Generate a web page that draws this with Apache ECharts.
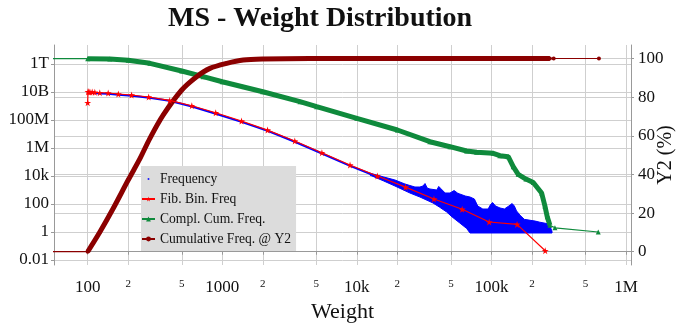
<!DOCTYPE html>
<html>
<head>
<meta charset="utf-8" />
<title>MS - Weight Distribution</title>
<style>
  html, body { margin: 0; padding: 0; background: #fff; }
  #chart { width: 676px; height: 326px; }
</style>
</head>
<body>
<div id="chart"></div>
<script src="https://cdn.jsdelivr.net/npm/echarts@6/dist/echarts.min.js"></script>
<script>
// axis ticks
var xTicks = [100, 200, 500, 1000, 2000, 5000, 10000, 20000, 50000, 100000, 200000, 500000, 1000000];
var xTickText = ['100', '2', '5', '1000', '2', '5', '10k', '2', '5', '100k', '2', '5', '1M'];
var yTicks = [0.01, 1, 100, 1e4, 1e6, 1e8, 1e10, 1e12];
var yTickText = ['0.01', '1', '100', '10k', '1M', '100M', '10B', '1T'];
var y2Ticks = [0, 20, 40, 60, 80, 100];

// Frequency: the clean part of the curve (count of nodes per weight)
var freqWeight = [100, 123, 141, 169, 212, 287, 404, 594, 894, 1385, 2168, 3453, 5500, 8900, 12500];
var freqCount = [9.2e9, 7.8e9, 7.4e9, 6.3e9, 5.35e9, 3.85e9, 2.35e9, 9.2e8, 2.8e8, 7.4e7, 1.7e7, 2.8e6, 4.05e5, 5.35e4, 1.46e4];
// Frequency: the noisy tail, upper and lower edge of the point cloud
var cloudTopWeight = [12500, 15850, 19190, 22780, 24800, 27020, 29420, 31000, 32100, 33300, 34900, 39300, 40600,
  42000, 45300, 49200, 52800, 55900, 58200, 63900, 69300, 74700, 79100, 86300, 94500, 98100, 101900, 107300,
  115800, 124900, 134600, 142500, 148000, 153700, 162900, 175600, 212000, 229200, 258200, 272000, 282000];
var cloudTopCount = [1.6e4, 8490, 5180, 2680, 2090, 1640, 1640, 1930, 2900, 1390, 1180, 1000, 1800,
  1280, 611, 611, 920, 611, 518, 373, 316, 228, 72, 44, 44, 85, 128, 72,
  52, 44, 72, 108, 72, 32, 16, 8, 6, 5, 4, 2.7, 1.1];
var cloudLowWeight = [12500, 15850, 19190, 24800, 29420, 36800, 41000, 46500, 51000, 58200, 65400, 69300, 282000];
var cloudLowCount = [1.17e4, 4390, 1930, 611, 316, 118, 61, 27, 12, 4.4, 1.8, 0.85, 0.85];

// Fibonacci binned frequency
var fibWeight = [100, 100.5, 102, 104, 108, 113, 123, 142, 169, 212, 284, 407, 594, 894, 1390, 2170,
  3460, 5500, 8900, 14200, 23000, 37400, 60600, 96200, 155000, 251000];
var fibCount = [1.72e9, 1.05e10, 1.05e10, 1.0e10, 1.0e10, 9.5e9, 8.9e9, 8.5e9, 7.2e9, 6.1e9, 4.4e9, 2.5e9, 1.05e9, 3.3e8, 8.5e7, 1.9e7,
  3.2e6, 4.6e5, 6.1e4, 1.0e4, 1.6e3, 230, 42, 5.2, 3.5, 0.046];

// complementary cumulative frequency
var ccfWeight = [1, 100, 146, 200, 290, 500, 722, 1000, 2000, 3780, 5030, 10000, 20000, 34900, 49200,
  65400, 77600, 103100, 115600, 133300, 145200, 158100, 180400, 204500, 236000, 249700, 259800, 272000,
  296400, 621600];
var ccfCount = [2.4e12, 2.4e12, 2.28e12, 1.84e12, 1.12e12, 3.16e11, 1.24e11, 5.4e10, 1.05e10, 2.03e9, 8.9e8, 1.32e8, 1.93e7, 2.82e6, 1.24e6,
  6.1e5, 4.93e5, 4.18e5, 2.82e5, 2.39e5, 4.6e4, 1.32e4, 6100, 3430, 611, 72, 12.4, 3,
  2, 1];

// cumulative frequency in percent (Y2)
var cumWeight = [1, 100, 123.5, 155, 200, 245, 290, 364.5, 500, 645, 810, 1079, 1432, 2017, 4483, 272000, 290000, 629000];
var cumPct = [0, 0, 10.35, 22.5, 37.1, 48.3, 58.7, 70.8, 83.7, 90.6, 94.9, 97.5, 99.2, 99.7, 99.95, 100, 100, 100];

var _font = 'Liberation Serif';
var starPath = 'path://M50,0L61,35L98,35L68,57L79,91L50,70L21,91L32,57L2,35L39,35Z';
var dotIcon = 'path://M0,0M16,6M7,2h2v2h-2z';

function pairs(xs, ys, from, to) {
  var out = [];
  for (var i = (from || 0); i < (to == null ? xs.length : to); i++) out.push([xs[i], ys[i]]);
  return out;
}
function nearest(list, v) {
  var best = 0, d = Infinity;
  for (var i = 0; i < list.length; i++) {
    var dd = Math.abs(Math.log(list[i]) - Math.log(v));
    if (dd < d) { d = dd; best = i; }
  }
  return best;
}

// outline of the point cloud: top edge left->right, then bottom edge right->left
var cloudRing = pairs(cloudTopWeight, cloudTopCount).concat(pairs(cloudLowWeight, cloudLowCount).reverse());

var chart = echarts.init(document.getElementById('chart'));
var gridColor = '#cfcfcf';
var axisColor = '#999';

var option = {
  animation: false,
  backgroundColor: '#fff',
  title: {
    text: 'MS - Weight Distribution',
    left: 168, top: 5, padding: 0,
    textStyle: { fontFamily: _font, fontWeight: 'bold', fontSize: 28, color: '#111' }
  },
  legend: {
    orient: 'vertical',
    left: 141, top: 166,
    backgroundColor: '#dcdcdc',
    padding: [6, 5, 5, 0],
    itemGap: 6,
    itemWidth: 13, itemHeight: 6,
    textStyle: { fontFamily: _font, fontSize: 13.6, color: '#111' },
    data: [
      { name: 'Frequency', icon: dotIcon },
      'Fib. Bin. Freq',
      'Compl. Cum. Freq.',
      'Cumulative Freq. @ Y2'
    ]
  },
  grid: { left: 54, right: 45, top: 45, bottom: 61, containLabel: false, outerBoundsMode: 'none' },
  xAxis: {
    type: 'log', logBase: 10,
    min: 56.2, max: 1089000,
    name: 'Weight', nameLocation: 'middle', nameGap: 36, nameMoveOverlap: false,
    nameTextStyle: { fontFamily: _font, fontSize: 22, color: '#111' },
    axisLine: { show: true, lineStyle: { color: axisColor } },
    axisTick: { show: true, customValues: xTicks, length: 3, lineStyle: { color: axisColor } },
    axisLabel: {
      customValues: xTicks,
      margin: 14,
      fontFamily: _font, fontSize: 17, color: '#111',
      formatter: function (v) {
        var t = xTickText[nearest(xTicks, v)];
        return t.length === 1 ? '{m|' + t + '}' : t;
      },
      rich: { m: { fontFamily: _font, fontSize: 11, color: '#111', padding: [0, 0, 6, 0] } }
    },
    splitLine: { show: true, lineStyle: { color: gridColor, width: 1 } }
  },
  yAxis: [{
    type: 'log', logBase: 10,
    min: 0.0044, max: 2.28e13,
    axisLine: { show: true, lineStyle: { color: axisColor } },
    axisTick: { show: true, customValues: yTicks, length: 3, lineStyle: { color: axisColor } },
    axisLabel: {
      customValues: yTicks,
      margin: 5,
      fontFamily: _font, fontSize: 17, color: '#111',
      formatter: function (v) { return yTickText[nearest(yTicks, v)]; }
    },
    splitLine: { show: true, lineStyle: { color: gridColor, width: 1 } }
  }, {
    type: 'value',
    position: 'right',
    min: -6.88, max: 107,
    name: 'Y2 (%)', nameLocation: 'middle', nameGap: 25, nameRotate: 90, nameMoveOverlap: false,
    nameTextStyle: { fontFamily: _font, fontSize: 20, color: '#111' },
    axisLine: { show: true, lineStyle: { color: axisColor } },
    axisTick: { show: true, customValues: y2Ticks, length: 3, lineStyle: { color: axisColor } },
    axisLabel: {
      customValues: y2Ticks,
      margin: 7,
      fontFamily: _font, fontSize: 17, color: '#111'
    },
    splitLine: { show: true, lineStyle: { color: gridColor, width: 1 } }
  }],
  series: [{
    name: 'Frequency',
    type: 'line',
    data: pairs(freqWeight, freqCount),
    symbol: 'none',
    lineStyle: { color: '#0000ff', width: 2 },
    itemStyle: { color: '#0000ff' },
    z: 2
  }, {
    name: 'Frequency',
    type: 'custom',
    data: cloudRing,
    clip: true,
    itemStyle: { color: '#0000ff' },
    renderItem: function (params, api) {
      if (params.dataIndex !== 0) return null;
      var pts = cloudRing.map(function (p) { return api.coord(p); });
      return {
        type: 'polygon',
        shape: { points: pts },
        style: { fill: '#0000ff', stroke: '#0000ff', lineWidth: 1 }
      };
    },
    z: 2
  }, {
    name: 'Compl. Cum. Freq.',
    type: 'line',
    data: pairs(ccfWeight, ccfCount),
    symbol: 'triangle', symbolSize: 5,
    lineStyle: { color: '#0f8a3c', width: 1.2 },
    itemStyle: { color: '#0f8a3c' },
    z: 3
  }, {
    name: 'Compl. Cum. Freq.',
    type: 'line',
    data: pairs(ccfWeight, ccfCount, 1, 28),
    symbol: 'none',
    lineStyle: { color: '#0f8a3c', width: 5 },
    itemStyle: { color: '#0f8a3c' },
    z: 3
  }, {
    name: 'Cumulative Freq. @ Y2',
    type: 'line',
    yAxisIndex: 1,
    data: pairs(cumWeight, cumPct),
    symbol: 'circle', symbolSize: 4,
    lineStyle: { color: '#8b0000', width: 1.2 },
    itemStyle: { color: '#8b0000' },
    z: 4
  }, {
    name: 'Cumulative Freq. @ Y2',
    type: 'line',
    yAxisIndex: 1,
    data: pairs(cumWeight, cumPct, 1, 16),
    symbol: 'none',
    smooth: 0.3,
    lineStyle: { color: '#8b0000', width: 5 },
    itemStyle: { color: '#8b0000' },
    z: 4
  }, {
    name: 'Fib. Bin. Freq',
    type: 'line',
    data: pairs(fibWeight, fibCount),
    symbol: starPath, symbolSize: 7,
    lineStyle: { color: '#ff0000', width: 1.2 },
    itemStyle: { color: '#ff0000' },
    z: 5
  }]
};
chart.setOption(option);
</script>
</body>
</html>
